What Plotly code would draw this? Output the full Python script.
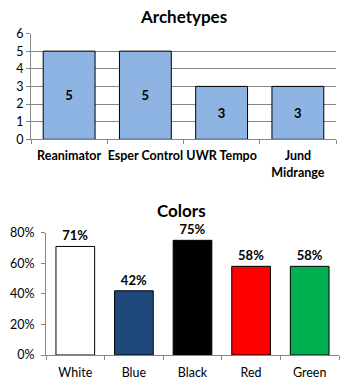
import plotly.graph_objects as go

# Archetype counts
archetypes = ["Reanimator", "Esper Control", "UWR Tempo", "Jund<br>Midrange"]
archetype_counts = [5, 5, 3, 3]

# Share of decks playing each colour
colors = ["White", "Blue", "Black", "Red", "Green"]
color_shares = [0.71, 0.42, 0.75, 0.58, 0.58]
color_fills = ["#FFFFFF", "#1F497D", "#000000", "#FF0000", "#00B050"]

W, H = 346, 386
FONT = "Lato"
AXIS_GREY = "#868686"


def px_x(v):
    return v / W


def px_y(v):
    return 1 - v / H


fig = go.Figure()

fig.add_trace(go.Bar(
    x=archetypes, y=archetype_counts,
    marker=dict(color="#8EB4E3", line=dict(color="#000000", width=1)),
    text=archetype_counts, textposition="inside", insidetextanchor="middle",
    textangle=0,
    textfont=dict(family=FONT, size=13, color="#000000", weight="bold"),
    xaxis="x", yaxis="y", width=0.68, hoverinfo="skip",
))

fig.add_trace(go.Bar(
    x=colors, y=color_shares,
    marker=dict(color=color_fills, line=dict(color="#000000", width=1)),
    texttemplate="%{y:.0%}", textposition="outside", cliponaxis=False,
    textangle=0,
    textfont=dict(family=FONT, size=13, color="#000000", weight="bold"),
    xaxis="x2", yaxis="y2", width=0.66, hoverinfo="skip",
))

fig.update_layout(
    width=W, height=H,
    margin=dict(l=0, r=0, t=0, b=0),
    paper_bgcolor="#FFFFFF", plot_bgcolor="#FFFFFF",
    showlegend=False,
    font=dict(family=FONT, size=12, color="#000000"),
    xaxis=dict(
        domain=[px_x(31), px_x(336)], anchor="y", automargin=False,
        showline=True, linecolor=AXIS_GREY, linewidth=1, tickangle=0,
        ticks="outside", tickson="boundaries", ticklen=4, tickcolor=AXIS_GREY,
        ticklabelstandoff=5,
        tickfont=dict(family=FONT, size=12.5, color="#000000", weight="bold"),
        showgrid=False, fixedrange=True,
    ),
    yaxis=dict(
        domain=[px_y(139.3), px_y(33.5)], anchor="x", automargin=False,
        range=[0, 6], dtick=1,
        showline=True, linecolor=AXIS_GREY, linewidth=1,
        ticks="outside", ticklen=4, tickcolor=AXIS_GREY,
        showgrid=True, gridcolor=AXIS_GREY, gridwidth=1,
        tickfont=dict(family=FONT, size=12.5, color="#000000"),
        zeroline=False, fixedrange=True,
    ),
    xaxis2=dict(
        domain=[px_x(46), px_x(339)], anchor="y2", automargin=False,
        showline=True, linecolor=AXIS_GREY, linewidth=1, tickangle=0,
        ticks="outside", tickson="boundaries", ticklen=4, tickcolor=AXIS_GREY,
        ticklabelstandoff=6,
        tickfont=dict(family=FONT, size=12.5, color="#000000"),
        showgrid=False, fixedrange=True,
    ),
    yaxis2=dict(
        domain=[px_y(355), px_y(232.7)], anchor="x2", automargin=False,
        range=[0, 0.8], dtick=0.2, tickformat=".0%",
        showline=True, linecolor=AXIS_GREY, linewidth=1,
        ticks="outside", ticklen=4, tickcolor=AXIS_GREY,
        ticklabelstandoff=4,
        showgrid=False,
        tickfont=dict(family=FONT, size=12.5, color="#000000"),
        zeroline=False, fixedrange=True,
    ),
    annotations=[
        dict(text="<b>Archetypes</b>", x=px_x(184), y=px_y(16), xref="paper", yref="paper",
             showarrow=False, xanchor="center", yanchor="middle",
             font=dict(family=FONT, size=17, color="#000000")),
        dict(text="<b>Colors</b>", x=px_x(181), y=px_y(210), xref="paper", yref="paper",
             showarrow=False, xanchor="center", yanchor="middle",
             font=dict(family=FONT, size=17, color="#000000")),
    ],
)

fig.write_html("out.html")
